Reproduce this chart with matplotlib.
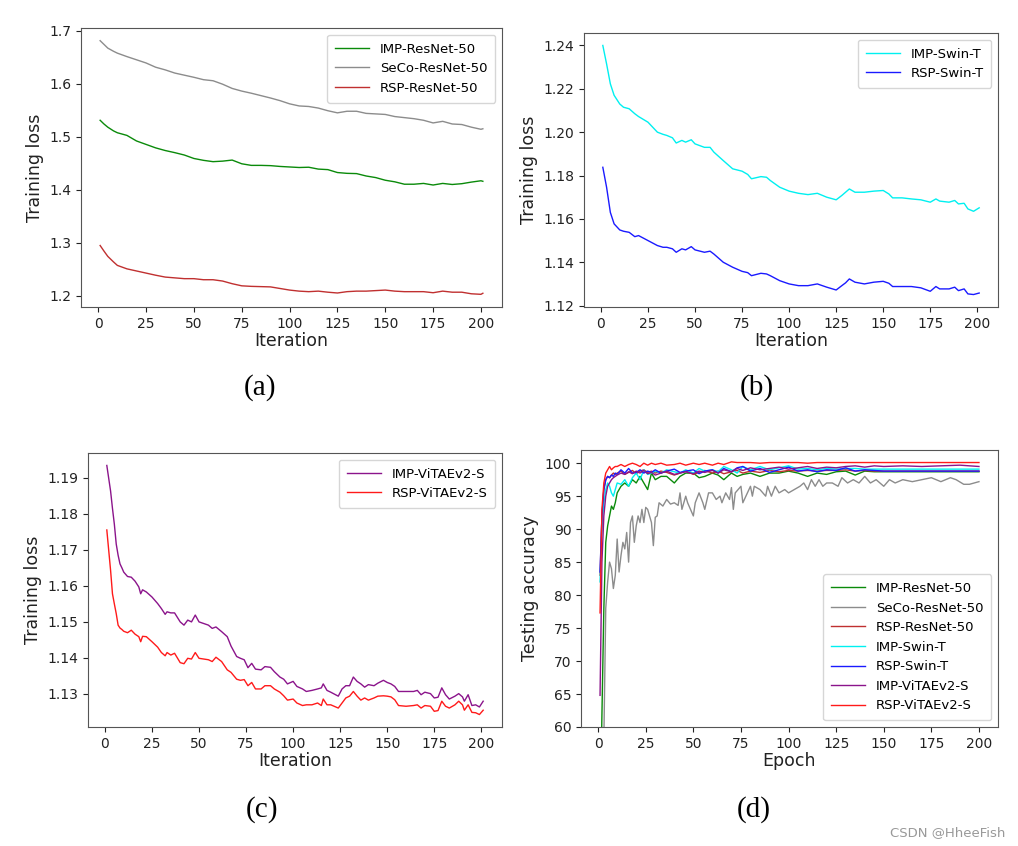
import matplotlib

matplotlib.use("Agg")
import matplotlib.pyplot as plt  # noqa: E402

# ---- (a) ResNet-50 training loss ----
iter_a = [1, 3, 5, 8] + list(range(10, 201, 5)) + [201]
imp_resnet = [1.531, 1.524, 1.518, 1.511, 1.5075, 1.5025, 1.492, 1.4855, 1.479, 1.474, 1.470, 1.4655,
              1.459, 1.4555, 1.453, 1.454, 1.456, 1.449, 1.446, 1.446, 1.4455, 1.444, 1.443, 1.442,
              1.4425, 1.439, 1.438, 1.4325, 1.431, 1.4305, 1.426, 1.423, 1.418, 1.415, 1.4105, 1.4105,
              1.412, 1.409, 1.412, 1.410, 1.4115, 1.4145, 1.417, 1.416]
seco_resnet = [1.681, 1.674, 1.667, 1.661, 1.6575, 1.651, 1.645, 1.639, 1.631, 1.626, 1.620, 1.616,
               1.612, 1.6075, 1.6055, 1.599, 1.591, 1.586, 1.582, 1.5775, 1.573, 1.568, 1.562, 1.558,
               1.557, 1.554, 1.549, 1.545, 1.548, 1.548, 1.544, 1.543, 1.542, 1.538, 1.536, 1.534,
               1.531, 1.526, 1.529, 1.524, 1.523, 1.518, 1.514, 1.515]
rsp_resnet = [1.295, 1.2845, 1.2745, 1.264, 1.2575, 1.251, 1.247, 1.243, 1.239, 1.2355, 1.234, 1.2325,
              1.2325, 1.2305, 1.2305, 1.228, 1.223, 1.219, 1.218, 1.2175, 1.217, 1.214, 1.211, 1.209,
              1.208, 1.209, 1.207, 1.2055, 1.208, 1.209, 1.209, 1.21, 1.211, 1.209, 1.208, 1.208,
              1.208, 1.206, 1.209, 1.207, 1.207, 1.204, 1.203, 1.205]

# ---- (b) Swin-T training loss ----
iter_b = [1, 3, 5, 7, 10, 12, 15, 18, 20, 25, 30, 33, 35, 38, 40, 43, 45, 48, 50, 55, 58, 60, 65, 70,
          75, 78, 80, 85, 88, 90, 95, 100, 105, 110, 115, 120, 125, 128, 130, 132, 135, 140, 145, 150,
          153, 155, 160, 165, 170, 175, 178, 180, 185, 188, 190, 193, 195, 198, 201]
imp_swin = [1.24, 1.2315, 1.2223, 1.217, 1.213, 1.2115, 1.2108, 1.2085, 1.2072, 1.2046, 1.20, 1.199,
            1.1985, 1.1974, 1.195, 1.1962, 1.1954, 1.1965, 1.1946, 1.193, 1.193, 1.1908, 1.1869,
            1.1831, 1.182, 1.1805, 1.1785, 1.1795, 1.1792, 1.1777, 1.1746, 1.1728, 1.1718, 1.1712,
            1.1718, 1.17, 1.1688, 1.1708, 1.1723, 1.1738, 1.1723, 1.1723, 1.1728, 1.1731, 1.1715,
            1.1697, 1.1697, 1.1692, 1.1688, 1.1677, 1.1692, 1.1682, 1.1677, 1.1685, 1.1669, 1.1672,
            1.1646, 1.1635, 1.1651]
rsp_swin = [1.1838, 1.1746, 1.163, 1.1577, 1.1549, 1.1543, 1.1538, 1.1518, 1.1523, 1.15, 1.1477,
            1.1469, 1.1469, 1.1462, 1.1446, 1.1462, 1.1457, 1.1472, 1.1457, 1.1446, 1.1451, 1.1438,
            1.14, 1.1377, 1.1358, 1.1352, 1.1338, 1.1349, 1.1346, 1.1338, 1.1315, 1.13, 1.1292,
            1.1292, 1.13, 1.1285, 1.1272, 1.1292, 1.1305, 1.1323, 1.1308, 1.13, 1.1308, 1.1312,
            1.1303, 1.1288, 1.1288, 1.1288, 1.1282, 1.1266, 1.1288, 1.1277, 1.1277, 1.1285, 1.1269,
            1.1277, 1.1254, 1.1251, 1.1258]

# ---- (c) ViTAEv2-S training loss ----
iter_c = [1, 3, 4, 5, 6, 7, 8, 9, 10, 12, 14, 16, 18, 19, 20, 22, 25, 28, 30, 32, 33, 35, 37, 40, 42,
          44, 46, 48, 50, 55, 57, 59, 62, 65, 67, 70, 72, 74, 76, 78, 80, 83, 85, 88, 90, 93, 95, 97,
          100, 102, 105, 107, 110, 113, 115, 116, 118, 120, 124, 126, 128, 130, 132, 134, 136, 138,
          140, 143, 145, 148, 150, 152, 154, 156, 160, 164, 166, 168, 170, 173, 175, 177, 179, 181,
          183, 186, 188, 190, 191, 193, 195, 197, 199, 201]
imp_vitae = [1.1934, 1.1863, 1.1815, 1.1771, 1.1716, 1.1685, 1.1661, 1.165, 1.1638, 1.1626, 1.1624,
             1.1613, 1.1597, 1.1578, 1.1589, 1.1583, 1.1569, 1.1551, 1.1537, 1.1521, 1.1528, 1.1525,
             1.1525, 1.15, 1.1491, 1.1505, 1.15, 1.1519, 1.15, 1.1491, 1.1482, 1.1486, 1.1473,
             1.1459, 1.1433, 1.1404, 1.1399, 1.1395, 1.1373, 1.1385, 1.1369, 1.1367, 1.1376, 1.1374,
             1.1362, 1.1347, 1.1341, 1.1328, 1.1335, 1.1321, 1.1314, 1.1307, 1.131, 1.1314, 1.1317,
             1.1328, 1.131, 1.1305, 1.1294, 1.1314, 1.1323, 1.1323, 1.1347, 1.1335, 1.1328, 1.1319,
             1.1326, 1.1323, 1.133, 1.1338, 1.1332, 1.1328, 1.1321, 1.1307, 1.1307, 1.1307, 1.131,
             1.1298, 1.1305, 1.1301, 1.1289, 1.1291, 1.1317, 1.1298, 1.1286, 1.1294, 1.1301, 1.1292,
             1.128, 1.1298, 1.1268, 1.127, 1.1264, 1.128]
rsp_vitae = [1.1755, 1.1643, 1.1578, 1.155, 1.1523, 1.1491, 1.1483, 1.1479, 1.1474, 1.147, 1.1477,
             1.1466, 1.1459, 1.1445, 1.146, 1.1459, 1.1445, 1.143, 1.1415, 1.1406, 1.1415, 1.1408,
             1.1413, 1.1387, 1.1384, 1.1399, 1.1397, 1.1415, 1.1399, 1.1395, 1.139, 1.1402, 1.139,
             1.1367, 1.136, 1.1341, 1.1338, 1.134, 1.1323, 1.1332, 1.1314, 1.1314, 1.1323, 1.1323,
             1.1314, 1.1305, 1.1295, 1.1283, 1.1286, 1.1275, 1.1268, 1.127, 1.127, 1.1275, 1.1268,
             1.1286, 1.127, 1.127, 1.1261, 1.1275, 1.1289, 1.1294, 1.1307, 1.1294, 1.1283, 1.1289,
             1.1283, 1.1289, 1.1294, 1.1295, 1.1294, 1.1292, 1.1284, 1.1268, 1.1266, 1.1268, 1.127,
             1.1261, 1.1268, 1.1266, 1.1252, 1.1254, 1.128, 1.1266, 1.1261, 1.127, 1.128, 1.127,
             1.1255, 1.127, 1.1249, 1.1248, 1.1243, 1.1255]

# ---- (d) testing accuracy ----
epoch_d = [1, 2, 3, 4, 5, 6, 7, 8, 9, 10, 12, 14, 16, 18, 20, 22, 24, 26, 28, 30, 33, 36, 40, 43, 46,
           50, 53, 56, 60, 63, 66, 70, 73, 76, 80, 85, 90, 95, 100, 105, 110, 115, 120, 125, 130,
           135, 140, 145, 150, 160, 170, 180, 190, 200]
acc_imp_resnet = [45, 62, 78, 88, 90.5, 92, 93.5, 93, 94, 95.5, 96.5, 97, 96.5, 97.5, 97, 98, 97, 96,
                  98.5, 97.5, 98, 98, 97, 98, 98.5, 98.5, 97.8, 98, 98.5, 98.2, 97.5, 98.5, 98, 98.3,
                  98.5, 98, 98.5, 98.5, 98.8, 98.5, 98, 98.5, 98.3, 98.7, 98.8, 98.2, 98.8, 98.7,
                  98.7, 98.7, 98.7, 98.7, 98.7, 98.7]
acc_rsp_resnet = [83, 92, 96, 97.5, 98, 97.8, 98.2, 98.5, 98.3, 98.5, 98.8, 98.3, 98.6, 98.9, 98.4,
                  98.8, 99, 98.6, 98.8, 98.5, 98.8, 98.6, 98.2, 98.5, 98.8, 98.3, 98.6, 98.9, 98.5,
                  98.8, 98.4, 98.7, 98.9, 98.5, 98.8, 98.6, 98.9, 98.7, 98.9, 98.8, 98.9, 98.8, 98.9,
                  98.9, 99, 98.8, 98.9, 98.8, 98.8, 98.8, 98.8, 98.8, 98.8, 98.8]
acc_imp_swin = [82, 90, 94, 96, 97, 96.5, 95.5, 95, 96, 97, 96.8, 97.5, 96.5, 97.8, 98.5, 97.5, 99,
                98.3, 98.5, 98.8, 98.5, 99, 98.7, 98.5, 99, 98.5, 99.2, 98.8, 99, 98.7, 99.5, 99,
                98.5, 99.5, 99, 99.5, 99, 99.3, 99.6, 99.1, 99.2, 99, 99.2, 99.1, 99.2, 99.2, 99.1,
                99.1, 99.1, 99.1, 99.1, 99.1, 99.1, 99.1]
acc_rsp_swin = [83.5, 92, 96, 97.5, 98, 97.8, 98.2, 98, 98.5, 98.3, 99, 98.5, 99.2, 98.5, 98.6, 99,
                98.5, 98.8, 98.6, 99, 98.5, 98.8, 99.1, 98.6, 98.8, 99, 98.4, 98.8, 99, 98.5, 99.2,
                98.7, 99.3, 99.5, 98.8, 99.2, 98.6, 99, 99.4, 98.8, 99, 98.7, 99, 98.9, 99.3, 98.8,
                99, 98.9, 98.8, 98.8, 98.8, 98.8, 98.8, 98.8]
acc_imp_vitae = [64.8, 85, 92, 95, 96.5, 97, 97.5, 97.8, 98, 98.2, 98.5, 98.3, 98.7, 98.4, 98.8, 98.5,
                 98.9, 98.4, 98.6, 98.2, 98.5, 98.8, 98.3, 98.5, 98.7, 98.4, 98.8, 98.6, 98.9, 98.5,
                 99, 98.7, 99.2, 98.9, 99.3, 99, 99.2, 99.4, 99.1, 99.3, 99.5, 99.2, 99.4, 99.3,
                 99.5, 99.6, 99.4, 99.6, 99.5, 99.6, 99.5, 99.6, 99.7, 99.5]
acc_rsp_vitae = [77.3, 93, 97, 98.5, 99, 99.5, 99, 99.3, 99.5, 99.5, 99.8, 99.5, 99.8, 100, 99.8,
                 99.5, 100, 99.7, 100, 99.8, 100, 99.7, 99.8, 100, 99.7, 100, 99.8, 100, 99.7, 100,
                 99.8, 100.2, 100.1, 100.1, 100.1, 100, 100.1, 100.1, 100.1, 100.1, 100, 100.1,
                 100.1, 100.1, 100.1, 100.1, 100.1, 100.1, 100.1, 100.1, 100.1, 100.1, 100.1, 100.1]
epoch_seco = list(range(1, 33)) + [34, 36, 38, 40, 42, 43, 44, 46, 47, 50, 51, 53, 55, 56, 58, 60, 62,
                                   64, 65, 67, 69, 70, 71, 72, 75, 76, 80, 81, 82, 85, 88, 89, 91, 93,
                                   95, 98, 100, 103, 106, 108, 110, 112, 114, 116, 118, 120, 123, 126,
                                   128, 131, 134, 137, 140, 143, 146, 150, 153, 156, 160, 165, 170,
                                   175, 180, 185, 188, 192, 195, 200]
acc_seco_resnet = [30, 45, 58, 78, 82, 85, 84, 81, 83, 88.5,
                   83.5, 86, 88, 87, 89.5, 85, 91, 92, 88, 90.5,
                   92, 91, 93, 91, 93.3, 93, 92, 91, 87.5, 91.8,
                   92, 94, 93.5, 94.5, 93.8, 94, 93.6, 95.5, 93, 95,
                   94, 92, 94, 95.5, 94, 93, 95.5, 95.5, 94.5, 95,
                   94, 95.5, 94.5, 96.3, 93, 95.5, 96.5, 94, 96.5, 95,
                   96.5, 96, 95, 96.5, 95, 96.5, 95.5, 96, 95.5, 96,
                   96.5, 97, 96, 97.5, 96.5, 97.5, 96.5, 97, 97, 96.5,
                   97.8, 97, 97.5, 97, 98, 97, 97.5, 96.5, 97.5, 97,
                   97.5, 97.2, 97.5, 97.8, 97.2, 97.8, 97.5, 96.8, 96.8, 97.2]

W, H = 1018, 846
C_GREEN, C_GRAY, C_BROWN = "#0a8a0a", "#8c8c8c", "#c03030"
C_CYAN, C_BLUE, C_PURPLE, C_RED = "#00f0f0", "#1a1aff", "#8b148b", "#ff1a1a"


def make_ax(fig, left, top, right, bottom):
    ax = fig.add_axes([left / W, 1 - bottom / H, (right - left) / W, (bottom - top) / H])
    for s in ax.spines.values():
        s.set_color("#555555")
    ax.tick_params(labelsize=10, colors="#222222", labelcolor="#222222")
    return ax


fig = plt.figure(figsize=(W / 100, H / 100), dpi=100)
lw = 1.0
leg_kw = dict(fontsize=9.5, handlelength=2.6, borderpad=0.6, labelspacing=0.5)
lab_kw = dict(fontsize=12.5, color="#222222")

ax = make_ax(fig, 81, 28, 502, 307)
ax.plot(iter_a, imp_resnet, color=C_GREEN, lw=lw, label="IMP-ResNet-50")
ax.plot(iter_a, seco_resnet, color=C_GRAY, lw=lw, label="SeCo-ResNet-50")
ax.plot(iter_a, rsp_resnet, color=C_BROWN, lw=lw, label="RSP-ResNet-50")
ax.set_yticks([1.2, 1.3, 1.4, 1.5, 1.6, 1.7])
ax.set_xlabel("Iteration", labelpad=1, **lab_kw)
ax.set_ylabel("Training loss", **lab_kw)
ax.legend(loc="upper right", **leg_kw)

ax = make_ax(fig, 584, 33, 998, 307)
ax.plot(iter_b, imp_swin, color=C_CYAN, lw=lw, label="IMP-Swin-T")
ax.plot(iter_b, rsp_swin, color=C_BLUE, lw=lw, label="RSP-Swin-T")
ax.set_yticks([1.12, 1.14, 1.16, 1.18, 1.20, 1.22, 1.24])
ax.set_xlabel("Iteration", labelpad=1, **lab_kw)
ax.set_ylabel("Training loss", **lab_kw)
ax.legend(loc="upper right", **leg_kw)

ax = make_ax(fig, 88, 453, 502, 727)
ax.plot(iter_c, imp_vitae, color=C_PURPLE, lw=lw, label="IMP-ViTAEv2-S")
ax.plot(iter_c, rsp_vitae, color=C_RED, lw=lw, label="RSP-ViTAEv2-S")
ax.set_yticks([1.13, 1.14, 1.15, 1.16, 1.17, 1.18, 1.19])
ax.set_xlabel("Iteration", labelpad=1, **lab_kw)
ax.set_ylabel("Training loss", **lab_kw)
ax.legend(loc="upper right", **leg_kw)

ax = make_ax(fig, 581, 450, 998, 727)
ax.plot(epoch_d, acc_imp_resnet, color=C_GREEN, lw=lw, label="IMP-ResNet-50")
ax.plot(epoch_seco, acc_seco_resnet, color=C_GRAY, lw=lw, label="SeCo-ResNet-50")
ax.plot(epoch_d, acc_rsp_resnet, color=C_BROWN, lw=lw, label="RSP-ResNet-50")
ax.plot(epoch_d, acc_imp_swin, color=C_CYAN, lw=lw, label="IMP-Swin-T")
ax.plot(epoch_d, acc_rsp_swin, color=C_BLUE, lw=lw, label="RSP-Swin-T")
ax.plot(epoch_d, acc_imp_vitae, color=C_PURPLE, lw=lw, label="IMP-ViTAEv2-S")
ax.plot(epoch_d, acc_rsp_vitae, color=C_RED, lw=lw, label="RSP-ViTAEv2-S")
ax.set_ylim(60, 102)
ax.set_xlim(-9, 210)
ax.set_yticks(range(60, 101, 5))
ax.set_xlabel("Epoch", labelpad=1, **lab_kw)
ax.set_ylabel("Testing accuracy", **lab_kw)
ax.legend(loc="lower right", **leg_kw)

cap_kw = dict(fontsize=21, family="Liberation Serif", ha="center", va="center")
fig.text(260 / W, 1 - 388 / H, "(a)", **cap_kw)
fig.text(757 / W, 1 - 388 / H, "(b)", **cap_kw)
fig.text(262 / W, 1 - 810 / H, "(c)", **cap_kw)
fig.text(754 / W, 1 - 810 / H, "(d)", **cap_kw)
fig.text(1005 / W, 1 - 833 / H, "CSDN @HheeFish", fontsize=9.5, color="#999999", ha="right", va="center")

fig.savefig("out.png", dpi=100)
plt.close(fig)
